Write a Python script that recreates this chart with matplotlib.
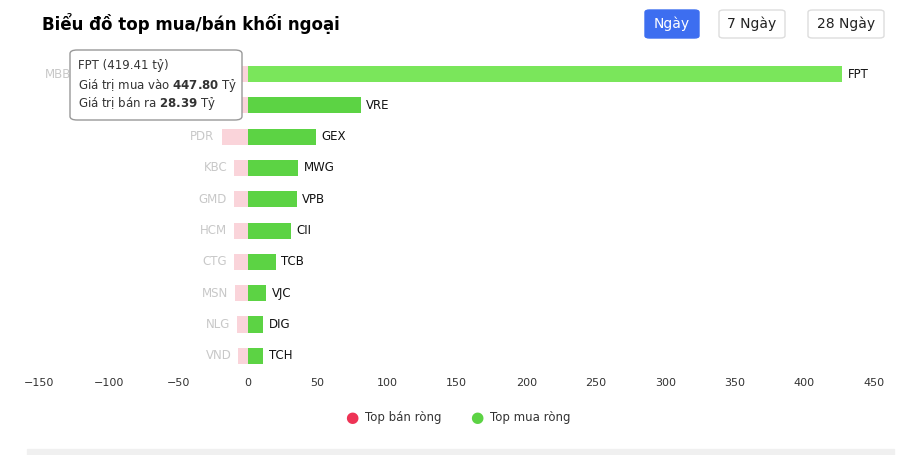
import matplotlib.pyplot as plt
from matplotlib.patches import FancyBboxPatch

buy_names = ["FPT","VRE","GEX","MWG","VPB","CII","TCB","VJC","DIG","TCH"]
buy_vals = [427, 81, 49, 36, 35, 31, 20, 13, 11, 11]
sell_names = ["MBB","VHM","PDR","KBC","GMD","HCM","CTG","MSN","NLG","VND"]
sell_vals = [-30, -26, -19, -10, -10, -10, -10, -9, -8, -7]
ticks = [-150,-100,-50,0,50,100,150,200,250,300,350,400,450]

fig = plt.figure(figsize=(9.01,4.55), dpi=100)
ax = fig.add_axes([0.0, 0.0, 1, 1])
px = 626/450
ax.set_xlim(-248/px, (901-248)/px)
ax.set_ylim((455-74)/31.33, -74/31.33)
ax.axis('off')
for i in range(len(buy_names)):
    ax.barh(i, buy_vals[i], height=0.52, color="#7ae65b" if i == 0 else "#5cd344")
    ax.barh(i, sell_vals[i], height=0.52, color="#fad4da")
    ax.text(buy_vals[i]+4, i, buy_names[i], va='center', ha='left', fontsize=8.5, color='#111')
    if i > 1:
        ax.text(sell_vals[i]-5, i, sell_names[i], va='center', ha='right', fontsize=8.5, color='#c8c8c8')
ax.text(-127, 0, sell_names[0], va='center', ha='right', fontsize=8.5, color='#c8c8c8')
for t in ticks:
    ax.text(t, 9.85, f"{t}".replace('-', '−'), ha='center', va='center', fontsize=8, color='#333')

fig.text(42/901, 1-24/455, "Biểu đồ top mua/bán khối ngoại", fontsize=12, fontweight='bold', va='center')
for (xc, lbl, active, w) in [(672,"Ngày",True,54),(752,"7 Ngày",False,66),(846,"28 Ngày",False,76)]:
    fig.patches.append(FancyBboxPatch(((xc-w/2)/901, 1-38/455), w/901, 28/455,
        boxstyle="round,pad=0,rounding_size=0.005", transform=fig.transFigure,
        fc="#3d6ef0" if active else "white", ec="#3d6ef0" if active else "#dddddd", lw=1))
    fig.text(xc/901, 1-24/455, lbl, ha='center', va='center', fontsize=10,
             color='white' if active else '#222')

fig.patches.append(FancyBboxPatch((70/901, 1-120/455), 172/901, 70/455,
    boxstyle="round,pad=0,rounding_size=0.008", transform=fig.transFigure,
    fc="white", ec="#999999", lw=1))
fig.text(78/901, 1-66/455, "FPT (419.41 tỷ)", fontsize=8.5, va='center', color='#333')
fig.text(78/901, 1-85/455, "Giá trị mua vào $\\bf{447.80}$ Tỷ", fontsize=8.5, va='center', color='#333')
fig.text(78/901, 1-103/455, "Giá trị bán ra $\\bf{28.39}$ Tỷ", fontsize=8.5, va='center', color='#333')

fig.text(352/901, 1-418/455, "●", fontsize=11, va='center', ha='center', color='#ee3355')
fig.text(365/901, 1-418/455, "Top bán ròng", fontsize=8.5, va='center', color='#333')
fig.text(477/901, 1-418/455, "●", fontsize=11, va='center', ha='center', color='#5cd344')
fig.text(490/901, 1-418/455, "Top mua ròng", fontsize=8.5, va='center', color='#333')
fig.patches.append(plt.Rectangle((27/901, 0), 867/901, 6/455, transform=fig.transFigure, color='#f0f0f0'))
fig.savefig("out.png", dpi=100)
